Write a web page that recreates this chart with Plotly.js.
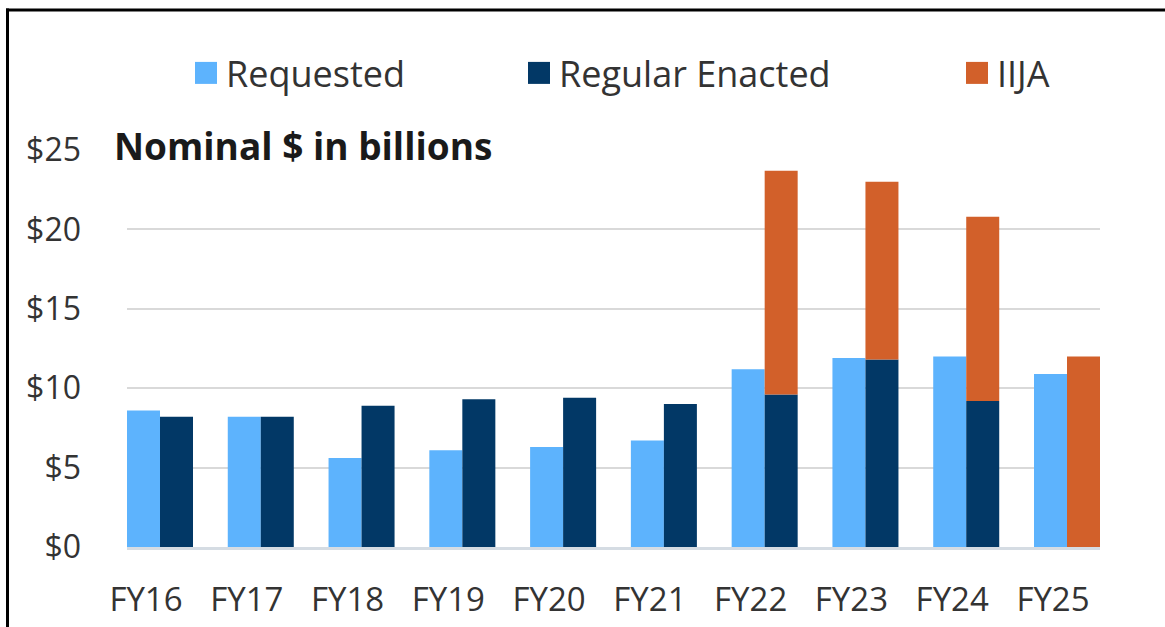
<!DOCTYPE html>
<html>
<head>
<meta charset="utf-8">
<script src="https://cdn.plot.ly/plotly-3.0.1.min.js"></script>
<style>
html,body{margin:0;padding:0;background:#fff;}
#chart{width:1165px;height:627px;}
</style>
</head>
<body>
<div id="chart"></div>
<script>
// ---- data ----
const categories = ['FY16','FY17','FY18','FY19','FY20','FY21','FY22','FY23','FY24','FY25'];
const requested = [8.6, 8.2, 5.6, 6.1, 6.3, 6.7, 11.2, 11.9, 12.0, 10.9];
const regularEnacted = [8.2, 8.2, 8.9, 9.3, 9.4, 9.0, 9.6, 11.8, 9.2, null];
const iija = [null, null, null, null, null, null, 14.1, 11.2, 11.6, 12.0];
const yTickValues = [0, 5, 10, 15, 20, 25];
const yTickLabels = ['$0', '$5', '$10', '$15', '$20', '$25'];

const seriesNames = ['Requested', 'Regular Enacted', 'IIJA'];
const colors = {req: '#5DB3FD', enc: '#023866', iija: '#D2602A'};

// stacking base for IIJA on top of regular enacted
const iijaBase = regularEnacted.map(v => (v == null ? 0 : v));

// pixel helpers for layout placement
const W = 1165, H = 627;
const M = {l: 127, r: 65, t: 150, b: 80};
const PW = W - M.l - M.r, PH = H - M.t - M.b;
const px = x => (x - M.l) / PW;
const py = y => (H - M.b - y) / PH;

const FONT = '"Open Sans", "DejaVu Sans", sans-serif';

const traces = [
  {type: 'bar', name: seriesNames[0], x: categories, y: requested,
   offsetgroup: 'req', marker: {color: colors.req}, legend: 'legend'},
  {type: 'bar', name: seriesNames[1], x: categories, y: regularEnacted,
   offsetgroup: 'enc', marker: {color: colors.enc}, legend: 'legend2'},
  {type: 'bar', name: seriesNames[2], x: categories, y: iija, base: iijaBase,
   offsetgroup: 'enc', marker: {color: colors.iija}, legend: 'legend3'}
];

const legendCommon = {orientation: 'h', yanchor: 'middle', y: py(73), xanchor: 'left',
  font: {family: FONT, size: 36, color: '#333333'}, bgcolor: 'rgba(0,0,0,0)', borderwidth: 0};

const layout = {
  width: W, height: H,
  margin: M,
  paper_bgcolor: '#ffffff', plot_bgcolor: '#ffffff',
  barmode: 'group', bargap: 0.345, bargroupgap: 0,
  showlegend: true,
  legend: Object.assign({}, legendCommon, {x: px(206 - 20)}),
  legend2: Object.assign({}, legendCommon, {x: px(539 - 20)}),
  legend3: Object.assign({}, legendCommon, {x: px(977 - 20)}),
  xaxis: {type: 'category', range: [-0.3274, 9.3274], showgrid: false,
    showline: true, linecolor: '#D5DCE3', linewidth: 3, ticks: '',
    tickfont: {family: FONT, size: 33, color: '#333333'}, ticklabelstandoff: 21, ticklabelshift: -14,
    fixedrange: true},
  yaxis: {range: [0, 25], tickmode: 'array', tickvals: yTickValues, ticktext: yTickLabels, showgrid: true,
    gridcolor: '#D9D9D9', gridwidth: 2, zeroline: false, showline: false, ticks: '',
    tickfont: {family: FONT, size: 32, color: '#333333'}, ticklabelstandoff: 45, fixedrange: true},
  annotations: [{
    text: '<b>Nominal $ in billions</b>', xref: 'paper', yref: 'paper',
    x: px(107), y: py(145), xanchor: 'left', yanchor: 'middle', showarrow: false,
    bgcolor: '#ffffff', borderpad: 6,
    font: {family: FONT, size: 37, color: '#1a1a1a'}
  }],
  shapes: [
    {type: 'line', xref: 'paper', yref: 'paper', x0: px(7.5), x1: px(7.5), y0: py(8.5), y1: py(640),
     line: {color: '#000000', width: 3}},
    {type: 'line', xref: 'paper', yref: 'paper', x0: px(6), x1: px(1180), y0: py(10), y1: py(10),
     line: {color: '#000000', width: 3}}
  ]
};

function enlargeLegendSymbols() {
  document.querySelectorAll('#chart .legendpoints path').forEach(p => {
    p.setAttribute('d', 'M11,11H-11V-11H11Z');
  });
}

const gd = document.getElementById('chart');
Plotly.newPlot(gd, traces, layout, {displayModeBar: false, staticPlot: true}).then(() => {
  enlargeLegendSymbols();
  gd.on('plotly_afterplot', enlargeLegendSymbols);
});
</script>
</body>
</html>
